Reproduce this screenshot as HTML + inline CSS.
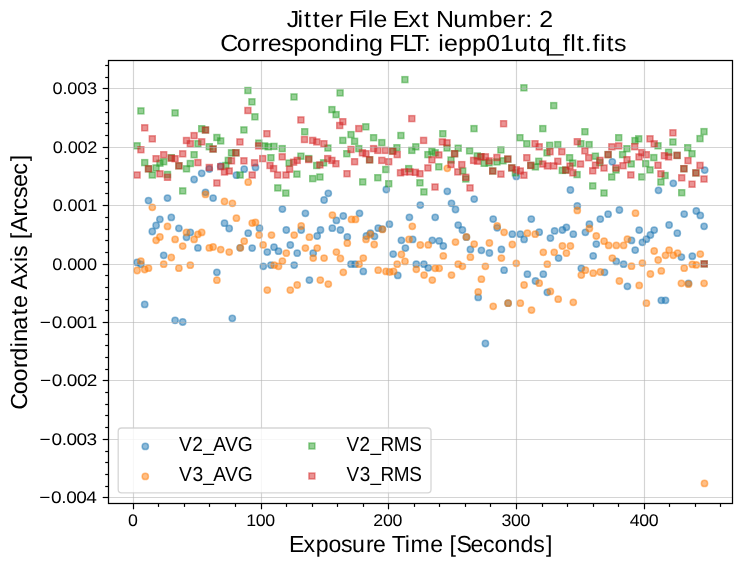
<!DOCTYPE html>
<html><head><meta charset="utf-8"><style>
html,body{margin:0;padding:0;background:#fff;width:743px;height:567px;overflow:hidden}
svg{display:block;will-change:transform}
text{font-family:"Liberation Sans",sans-serif;fill:#000;text-rendering:geometricPrecision}
</style></head><body>
<svg width="743" height="567" viewBox="0 0 743 567">
<rect width="743" height="567" fill="#fff"/>
<g fill-opacity="0.5" stroke-opacity="0.5" stroke-width="1.5">
<circle cx="244.2" cy="169.2" r="3.15" fill="#1f77b4" stroke="#1f77b4"/>
<circle cx="255.5" cy="167.4" r="3.15" fill="#1f77b4" stroke="#1f77b4"/>
<circle cx="236.4" cy="175.2" r="3.15" fill="#1f77b4" stroke="#1f77b4"/>
<circle cx="282.4" cy="209.1" r="3.15" fill="#1f77b4" stroke="#1f77b4"/>
<circle cx="305.4" cy="213.3" r="3.15" fill="#1f77b4" stroke="#1f77b4"/>
<circle cx="324.1" cy="200.0" r="3.15" fill="#1f77b4" stroke="#1f77b4"/>
<circle cx="229.2" cy="228.5" r="3.15" fill="#1f77b4" stroke="#1f77b4"/>
<circle cx="248.2" cy="233.2" r="3.15" fill="#1f77b4" stroke="#1f77b4"/>
<circle cx="259.5" cy="228.2" r="3.15" fill="#1f77b4" stroke="#1f77b4"/>
<circle cx="286.3" cy="230.0" r="3.15" fill="#1f77b4" stroke="#1f77b4"/>
<circle cx="301.2" cy="230.0" r="3.15" fill="#1f77b4" stroke="#1f77b4"/>
<circle cx="320.5" cy="230.0" r="3.15" fill="#1f77b4" stroke="#1f77b4"/>
<circle cx="317.2" cy="236.0" r="3.15" fill="#1f77b4" stroke="#1f77b4"/>
<circle cx="240.1" cy="247.8" r="3.15" fill="#1f77b4" stroke="#1f77b4"/>
<circle cx="252.2" cy="248.1" r="3.15" fill="#1f77b4" stroke="#1f77b4"/>
<circle cx="267.3" cy="252.1" r="3.15" fill="#1f77b4" stroke="#1f77b4"/>
<circle cx="274.0" cy="247.2" r="3.15" fill="#1f77b4" stroke="#1f77b4"/>
<circle cx="278.5" cy="251.2" r="3.15" fill="#1f77b4" stroke="#1f77b4"/>
<circle cx="290.3" cy="245.0" r="3.15" fill="#1f77b4" stroke="#1f77b4"/>
<circle cx="297.2" cy="253.2" r="3.15" fill="#1f77b4" stroke="#1f77b4"/>
<circle cx="313.2" cy="253.2" r="3.15" fill="#1f77b4" stroke="#1f77b4"/>
<circle cx="263.3" cy="266.3" r="3.15" fill="#1f77b4" stroke="#1f77b4"/>
<circle cx="270.9" cy="265.1" r="3.15" fill="#1f77b4" stroke="#1f77b4"/>
<circle cx="294.2" cy="265.1" r="3.15" fill="#1f77b4" stroke="#1f77b4"/>
<circle cx="309.4" cy="280.1" r="3.15" fill="#1f77b4" stroke="#1f77b4"/>
<circle cx="232.3" cy="318.3" r="3.15" fill="#1f77b4" stroke="#1f77b4"/>
<circle cx="328.3" cy="193.3" r="3.15" fill="#1f77b4" stroke="#1f77b4"/>
<circle cx="386.3" cy="189.5" r="3.15" fill="#1f77b4" stroke="#1f77b4"/>
<circle cx="420.3" cy="205.1" r="3.15" fill="#1f77b4" stroke="#1f77b4"/>
<circle cx="359.5" cy="213.3" r="3.15" fill="#1f77b4" stroke="#1f77b4"/>
<circle cx="343.3" cy="216.0" r="3.15" fill="#1f77b4" stroke="#1f77b4"/>
<circle cx="336.4" cy="220.4" r="3.15" fill="#1f77b4" stroke="#1f77b4"/>
<circle cx="332.3" cy="228.2" r="3.15" fill="#1f77b4" stroke="#1f77b4"/>
<circle cx="340.4" cy="230.0" r="3.15" fill="#1f77b4" stroke="#1f77b4"/>
<circle cx="347.3" cy="236.9" r="3.15" fill="#1f77b4" stroke="#1f77b4"/>
<circle cx="366.4" cy="236.0" r="3.15" fill="#1f77b4" stroke="#1f77b4"/>
<circle cx="370.4" cy="233.2" r="3.15" fill="#1f77b4" stroke="#1f77b4"/>
<circle cx="374.5" cy="236.3" r="3.15" fill="#1f77b4" stroke="#1f77b4"/>
<circle cx="378.2" cy="228.2" r="3.15" fill="#1f77b4" stroke="#1f77b4"/>
<circle cx="382.4" cy="229.1" r="3.15" fill="#1f77b4" stroke="#1f77b4"/>
<circle cx="389.4" cy="224.2" r="3.15" fill="#1f77b4" stroke="#1f77b4"/>
<circle cx="409.4" cy="217.3" r="3.15" fill="#1f77b4" stroke="#1f77b4"/>
<circle cx="401.4" cy="240.3" r="3.15" fill="#1f77b4" stroke="#1f77b4"/>
<circle cx="412.7" cy="239.4" r="3.15" fill="#1f77b4" stroke="#1f77b4"/>
<circle cx="405.4" cy="248.1" r="3.15" fill="#1f77b4" stroke="#1f77b4"/>
<circle cx="393.2" cy="254.1" r="3.15" fill="#1f77b4" stroke="#1f77b4"/>
<circle cx="351.0" cy="264.2" r="3.15" fill="#1f77b4" stroke="#1f77b4"/>
<circle cx="355.1" cy="264.2" r="3.15" fill="#1f77b4" stroke="#1f77b4"/>
<circle cx="363.3" cy="271.4" r="3.15" fill="#1f77b4" stroke="#1f77b4"/>
<circle cx="397.8" cy="275.4" r="3.15" fill="#1f77b4" stroke="#1f77b4"/>
<circle cx="416.3" cy="264.2" r="3.15" fill="#1f77b4" stroke="#1f77b4"/>
<circle cx="423.9" cy="264.2" r="3.15" fill="#1f77b4" stroke="#1f77b4"/>
<circle cx="447.3" cy="191.3" r="3.15" fill="#1f77b4" stroke="#1f77b4"/>
<circle cx="474.2" cy="199.1" r="3.15" fill="#1f77b4" stroke="#1f77b4"/>
<circle cx="451.5" cy="203.3" r="3.15" fill="#1f77b4" stroke="#1f77b4"/>
<circle cx="455.5" cy="209.5" r="3.15" fill="#1f77b4" stroke="#1f77b4"/>
<circle cx="435.2" cy="217.3" r="3.15" fill="#1f77b4" stroke="#1f77b4"/>
<circle cx="458.2" cy="225.1" r="3.15" fill="#1f77b4" stroke="#1f77b4"/>
<circle cx="462.4" cy="230.0" r="3.15" fill="#1f77b4" stroke="#1f77b4"/>
<circle cx="493.2" cy="219.1" r="3.15" fill="#1f77b4" stroke="#1f77b4"/>
<circle cx="497.2" cy="227.8" r="3.15" fill="#1f77b4" stroke="#1f77b4"/>
<circle cx="516.3" cy="176.4" r="3.15" fill="#1f77b4" stroke="#1f77b4"/>
<circle cx="432.3" cy="240.3" r="3.15" fill="#1f77b4" stroke="#1f77b4"/>
<circle cx="439.2" cy="240.9" r="3.15" fill="#1f77b4" stroke="#1f77b4"/>
<circle cx="443.3" cy="246.0" r="3.15" fill="#1f77b4" stroke="#1f77b4"/>
<circle cx="466.4" cy="237.2" r="3.15" fill="#1f77b4" stroke="#1f77b4"/>
<circle cx="470.4" cy="249.4" r="3.15" fill="#1f77b4" stroke="#1f77b4"/>
<circle cx="481.4" cy="250.3" r="3.15" fill="#1f77b4" stroke="#1f77b4"/>
<circle cx="489.4" cy="253.0" r="3.15" fill="#1f77b4" stroke="#1f77b4"/>
<circle cx="501.4" cy="249.4" r="3.15" fill="#1f77b4" stroke="#1f77b4"/>
<circle cx="512.3" cy="234.2" r="3.15" fill="#1f77b4" stroke="#1f77b4"/>
<circle cx="520.3" cy="234.2" r="3.15" fill="#1f77b4" stroke="#1f77b4"/>
<circle cx="524.1" cy="239.4" r="3.15" fill="#1f77b4" stroke="#1f77b4"/>
<circle cx="428.3" cy="267.8" r="3.15" fill="#1f77b4" stroke="#1f77b4"/>
<circle cx="504.1" cy="270.2" r="3.15" fill="#1f77b4" stroke="#1f77b4"/>
<circle cx="478.2" cy="297.4" r="3.15" fill="#1f77b4" stroke="#1f77b4"/>
<circle cx="508.1" cy="303.2" r="3.15" fill="#1f77b4" stroke="#1f77b4"/>
<circle cx="485.4" cy="343.5" r="3.15" fill="#1f77b4" stroke="#1f77b4"/>
<circle cx="612.3" cy="161.8" r="3.15" fill="#1f77b4" stroke="#1f77b4"/>
<circle cx="570.4" cy="190.0" r="3.15" fill="#1f77b4" stroke="#1f77b4"/>
<circle cx="577.3" cy="206.0" r="3.15" fill="#1f77b4" stroke="#1f77b4"/>
<circle cx="531.3" cy="219.1" r="3.15" fill="#1f77b4" stroke="#1f77b4"/>
<circle cx="539.2" cy="232.2" r="3.15" fill="#1f77b4" stroke="#1f77b4"/>
<circle cx="550.4" cy="238.1" r="3.15" fill="#1f77b4" stroke="#1f77b4"/>
<circle cx="554.6" cy="230.9" r="3.15" fill="#1f77b4" stroke="#1f77b4"/>
<circle cx="562.4" cy="230.0" r="3.15" fill="#1f77b4" stroke="#1f77b4"/>
<circle cx="566.4" cy="227.3" r="3.15" fill="#1f77b4" stroke="#1f77b4"/>
<circle cx="573.3" cy="234.2" r="3.15" fill="#1f77b4" stroke="#1f77b4"/>
<circle cx="585.4" cy="232.3" r="3.15" fill="#1f77b4" stroke="#1f77b4"/>
<circle cx="589.4" cy="224.2" r="3.15" fill="#1f77b4" stroke="#1f77b4"/>
<circle cx="600.3" cy="219.1" r="3.15" fill="#1f77b4" stroke="#1f77b4"/>
<circle cx="608.1" cy="214.2" r="3.15" fill="#1f77b4" stroke="#1f77b4"/>
<circle cx="619.4" cy="210.0" r="3.15" fill="#1f77b4" stroke="#1f77b4"/>
<circle cx="596.3" cy="244.1" r="3.15" fill="#1f77b4" stroke="#1f77b4"/>
<circle cx="593.2" cy="255.9" r="3.15" fill="#1f77b4" stroke="#1f77b4"/>
<circle cx="558.6" cy="258.1" r="3.15" fill="#1f77b4" stroke="#1f77b4"/>
<circle cx="527.4" cy="274.2" r="3.15" fill="#1f77b4" stroke="#1f77b4"/>
<circle cx="535.5" cy="281.0" r="3.15" fill="#1f77b4" stroke="#1f77b4"/>
<circle cx="543.3" cy="274.2" r="3.15" fill="#1f77b4" stroke="#1f77b4"/>
<circle cx="547.3" cy="292.3" r="3.15" fill="#1f77b4" stroke="#1f77b4"/>
<circle cx="581.3" cy="268.3" r="3.15" fill="#1f77b4" stroke="#1f77b4"/>
<circle cx="604.5" cy="272.3" r="3.15" fill="#1f77b4" stroke="#1f77b4"/>
<circle cx="616.3" cy="261.4" r="3.15" fill="#1f77b4" stroke="#1f77b4"/>
<circle cx="623.6" cy="264.2" r="3.15" fill="#1f77b4" stroke="#1f77b4"/>
<circle cx="704.7" cy="170.1" r="3.15" fill="#1f77b4" stroke="#1f77b4"/>
<circle cx="673.3" cy="183.3" r="3.15" fill="#1f77b4" stroke="#1f77b4"/>
<circle cx="658.5" cy="190.3" r="3.15" fill="#1f77b4" stroke="#1f77b4"/>
<circle cx="684.2" cy="214.1" r="3.15" fill="#1f77b4" stroke="#1f77b4"/>
<circle cx="696.3" cy="211.0" r="3.15" fill="#1f77b4" stroke="#1f77b4"/>
<circle cx="700.3" cy="215.4" r="3.15" fill="#1f77b4" stroke="#1f77b4"/>
<circle cx="704.1" cy="226.3" r="3.15" fill="#1f77b4" stroke="#1f77b4"/>
<circle cx="669.1" cy="225.0" r="3.15" fill="#1f77b4" stroke="#1f77b4"/>
<circle cx="677.3" cy="233.2" r="3.15" fill="#1f77b4" stroke="#1f77b4"/>
<circle cx="654.2" cy="230.1" r="3.15" fill="#1f77b4" stroke="#1f77b4"/>
<circle cx="650.4" cy="235.0" r="3.15" fill="#1f77b4" stroke="#1f77b4"/>
<circle cx="646.4" cy="239.2" r="3.15" fill="#1f77b4" stroke="#1f77b4"/>
<circle cx="642.4" cy="242.3" r="3.15" fill="#1f77b4" stroke="#1f77b4"/>
<circle cx="639.2" cy="230.1" r="3.15" fill="#1f77b4" stroke="#1f77b4"/>
<circle cx="631.5" cy="240.4" r="3.15" fill="#1f77b4" stroke="#1f77b4"/>
<circle cx="635.2" cy="250.1" r="3.15" fill="#1f77b4" stroke="#1f77b4"/>
<circle cx="681.4" cy="257.1" r="3.15" fill="#1f77b4" stroke="#1f77b4"/>
<circle cx="692.3" cy="256.2" r="3.15" fill="#1f77b4" stroke="#1f77b4"/>
<circle cx="627.4" cy="286.3" r="3.15" fill="#1f77b4" stroke="#1f77b4"/>
<circle cx="661.3" cy="300.3" r="3.15" fill="#1f77b4" stroke="#1f77b4"/>
<circle cx="665.5" cy="300.3" r="3.15" fill="#1f77b4" stroke="#1f77b4"/>
<circle cx="688.5" cy="283.3" r="3.15" fill="#1f77b4" stroke="#1f77b4"/>
<circle cx="137.1" cy="262.4" r="3.15" fill="#1f77b4" stroke="#1f77b4"/>
<circle cx="140.9" cy="264.3" r="3.15" fill="#1f77b4" stroke="#1f77b4"/>
<circle cx="144.7" cy="304.4" r="3.15" fill="#1f77b4" stroke="#1f77b4"/>
<circle cx="148.5" cy="200.6" r="3.15" fill="#1f77b4" stroke="#1f77b4"/>
<circle cx="152.3" cy="231.5" r="3.15" fill="#1f77b4" stroke="#1f77b4"/>
<circle cx="156.1" cy="225.5" r="3.15" fill="#1f77b4" stroke="#1f77b4"/>
<circle cx="159.9" cy="219.3" r="3.15" fill="#1f77b4" stroke="#1f77b4"/>
<circle cx="163.7" cy="255.3" r="3.15" fill="#1f77b4" stroke="#1f77b4"/>
<circle cx="167.5" cy="198.1" r="3.15" fill="#1f77b4" stroke="#1f77b4"/>
<circle cx="171.3" cy="217.4" r="3.15" fill="#1f77b4" stroke="#1f77b4"/>
<circle cx="175.1" cy="320.3" r="3.15" fill="#1f77b4" stroke="#1f77b4"/>
<circle cx="178.9" cy="228.3" r="3.15" fill="#1f77b4" stroke="#1f77b4"/>
<circle cx="182.7" cy="322.0" r="3.15" fill="#1f77b4" stroke="#1f77b4"/>
<circle cx="186.5" cy="237.3" r="3.15" fill="#1f77b4" stroke="#1f77b4"/>
<circle cx="190.3" cy="232.4" r="3.15" fill="#1f77b4" stroke="#1f77b4"/>
<circle cx="194.1" cy="179.5" r="3.15" fill="#1f77b4" stroke="#1f77b4"/>
<circle cx="197.9" cy="247.9" r="3.15" fill="#1f77b4" stroke="#1f77b4"/>
<circle cx="201.7" cy="173.3" r="3.15" fill="#1f77b4" stroke="#1f77b4"/>
<circle cx="205.5" cy="192.3" r="3.15" fill="#1f77b4" stroke="#1f77b4"/>
<circle cx="209.3" cy="169.0" r="3.15" fill="#1f77b4" stroke="#1f77b4"/>
<circle cx="213.1" cy="198.1" r="3.15" fill="#1f77b4" stroke="#1f77b4"/>
<circle cx="216.9" cy="272.3" r="3.15" fill="#1f77b4" stroke="#1f77b4"/>
<circle cx="220.7" cy="166.2" r="3.15" fill="#1f77b4" stroke="#1f77b4"/>
<circle cx="224.5" cy="223.2" r="3.15" fill="#1f77b4" stroke="#1f77b4"/>
<circle cx="248.2" cy="182.2" r="3.15" fill="#ff7f0e" stroke="#ff7f0e"/>
<circle cx="232.4" cy="203.3" r="3.15" fill="#ff7f0e" stroke="#ff7f0e"/>
<circle cx="236.4" cy="218.2" r="3.15" fill="#ff7f0e" stroke="#ff7f0e"/>
<circle cx="252.2" cy="223.1" r="3.15" fill="#ff7f0e" stroke="#ff7f0e"/>
<circle cx="255.5" cy="222.4" r="3.15" fill="#ff7f0e" stroke="#ff7f0e"/>
<circle cx="259.1" cy="235.1" r="3.15" fill="#ff7f0e" stroke="#ff7f0e"/>
<circle cx="244.2" cy="241.2" r="3.15" fill="#ff7f0e" stroke="#ff7f0e"/>
<circle cx="271.5" cy="235.1" r="3.15" fill="#ff7f0e" stroke="#ff7f0e"/>
<circle cx="263.1" cy="244.9" r="3.15" fill="#ff7f0e" stroke="#ff7f0e"/>
<circle cx="240.4" cy="247.8" r="3.15" fill="#ff7f0e" stroke="#ff7f0e"/>
<circle cx="229.2" cy="252.1" r="3.15" fill="#ff7f0e" stroke="#ff7f0e"/>
<circle cx="286.3" cy="253.2" r="3.15" fill="#ff7f0e" stroke="#ff7f0e"/>
<circle cx="294.2" cy="235.1" r="3.15" fill="#ff7f0e" stroke="#ff7f0e"/>
<circle cx="301.2" cy="226.0" r="3.15" fill="#ff7f0e" stroke="#ff7f0e"/>
<circle cx="309.4" cy="237.2" r="3.15" fill="#ff7f0e" stroke="#ff7f0e"/>
<circle cx="305.4" cy="248.1" r="3.15" fill="#ff7f0e" stroke="#ff7f0e"/>
<circle cx="317.2" cy="248.1" r="3.15" fill="#ff7f0e" stroke="#ff7f0e"/>
<circle cx="313.2" cy="258.1" r="3.15" fill="#ff7f0e" stroke="#ff7f0e"/>
<circle cx="324.1" cy="258.1" r="3.15" fill="#ff7f0e" stroke="#ff7f0e"/>
<circle cx="274.2" cy="265.1" r="3.15" fill="#ff7f0e" stroke="#ff7f0e"/>
<circle cx="278.5" cy="266.3" r="3.15" fill="#ff7f0e" stroke="#ff7f0e"/>
<circle cx="282.4" cy="261.1" r="3.15" fill="#ff7f0e" stroke="#ff7f0e"/>
<circle cx="267.3" cy="290.1" r="3.15" fill="#ff7f0e" stroke="#ff7f0e"/>
<circle cx="290.3" cy="290.1" r="3.15" fill="#ff7f0e" stroke="#ff7f0e"/>
<circle cx="297.2" cy="285.0" r="3.15" fill="#ff7f0e" stroke="#ff7f0e"/>
<circle cx="320.3" cy="280.1" r="3.15" fill="#ff7f0e" stroke="#ff7f0e"/>
<circle cx="332.4" cy="215.1" r="3.15" fill="#ff7f0e" stroke="#ff7f0e"/>
<circle cx="351.5" cy="219.4" r="3.15" fill="#ff7f0e" stroke="#ff7f0e"/>
<circle cx="355.5" cy="219.4" r="3.15" fill="#ff7f0e" stroke="#ff7f0e"/>
<circle cx="366.0" cy="239.4" r="3.15" fill="#ff7f0e" stroke="#ff7f0e"/>
<circle cx="370.4" cy="234.5" r="3.15" fill="#ff7f0e" stroke="#ff7f0e"/>
<circle cx="374.2" cy="244.5" r="3.15" fill="#ff7f0e" stroke="#ff7f0e"/>
<circle cx="382.4" cy="229.4" r="3.15" fill="#ff7f0e" stroke="#ff7f0e"/>
<circle cx="347.3" cy="243.2" r="3.15" fill="#ff7f0e" stroke="#ff7f0e"/>
<circle cx="336.4" cy="252.1" r="3.15" fill="#ff7f0e" stroke="#ff7f0e"/>
<circle cx="340.4" cy="258.5" r="3.15" fill="#ff7f0e" stroke="#ff7f0e"/>
<circle cx="363.3" cy="258.1" r="3.15" fill="#ff7f0e" stroke="#ff7f0e"/>
<circle cx="412.3" cy="226.3" r="3.15" fill="#ff7f0e" stroke="#ff7f0e"/>
<circle cx="409.0" cy="239.4" r="3.15" fill="#ff7f0e" stroke="#ff7f0e"/>
<circle cx="420.3" cy="245.0" r="3.15" fill="#ff7f0e" stroke="#ff7f0e"/>
<circle cx="401.4" cy="254.5" r="3.15" fill="#ff7f0e" stroke="#ff7f0e"/>
<circle cx="359.1" cy="264.2" r="3.15" fill="#ff7f0e" stroke="#ff7f0e"/>
<circle cx="343.3" cy="272.3" r="3.15" fill="#ff7f0e" stroke="#ff7f0e"/>
<circle cx="328.3" cy="284.1" r="3.15" fill="#ff7f0e" stroke="#ff7f0e"/>
<circle cx="378.2" cy="270.2" r="3.15" fill="#ff7f0e" stroke="#ff7f0e"/>
<circle cx="386.0" cy="271.4" r="3.15" fill="#ff7f0e" stroke="#ff7f0e"/>
<circle cx="389.6" cy="272.0" r="3.15" fill="#ff7f0e" stroke="#ff7f0e"/>
<circle cx="393.6" cy="271.4" r="3.15" fill="#ff7f0e" stroke="#ff7f0e"/>
<circle cx="397.2" cy="264.2" r="3.15" fill="#ff7f0e" stroke="#ff7f0e"/>
<circle cx="405.0" cy="261.4" r="3.15" fill="#ff7f0e" stroke="#ff7f0e"/>
<circle cx="416.3" cy="269.3" r="3.15" fill="#ff7f0e" stroke="#ff7f0e"/>
<circle cx="424.1" cy="275.1" r="3.15" fill="#ff7f0e" stroke="#ff7f0e"/>
<circle cx="447.3" cy="168.3" r="3.15" fill="#ff7f0e" stroke="#ff7f0e"/>
<circle cx="497.2" cy="226.0" r="3.15" fill="#ff7f0e" stroke="#ff7f0e"/>
<circle cx="504.1" cy="232.3" r="3.15" fill="#ff7f0e" stroke="#ff7f0e"/>
<circle cx="466.4" cy="236.9" r="3.15" fill="#ff7f0e" stroke="#ff7f0e"/>
<circle cx="428.3" cy="244.9" r="3.15" fill="#ff7f0e" stroke="#ff7f0e"/>
<circle cx="455.5" cy="242.1" r="3.15" fill="#ff7f0e" stroke="#ff7f0e"/>
<circle cx="474.2" cy="244.1" r="3.15" fill="#ff7f0e" stroke="#ff7f0e"/>
<circle cx="489.4" cy="243.0" r="3.15" fill="#ff7f0e" stroke="#ff7f0e"/>
<circle cx="512.3" cy="244.5" r="3.15" fill="#ff7f0e" stroke="#ff7f0e"/>
<circle cx="443.3" cy="255.9" r="3.15" fill="#ff7f0e" stroke="#ff7f0e"/>
<circle cx="470.4" cy="257.2" r="3.15" fill="#ff7f0e" stroke="#ff7f0e"/>
<circle cx="501.4" cy="258.1" r="3.15" fill="#ff7f0e" stroke="#ff7f0e"/>
<circle cx="432.3" cy="280.1" r="3.15" fill="#ff7f0e" stroke="#ff7f0e"/>
<circle cx="435.2" cy="268.3" r="3.15" fill="#ff7f0e" stroke="#ff7f0e"/>
<circle cx="439.2" cy="268.3" r="3.15" fill="#ff7f0e" stroke="#ff7f0e"/>
<circle cx="451.5" cy="275.1" r="3.15" fill="#ff7f0e" stroke="#ff7f0e"/>
<circle cx="458.2" cy="264.2" r="3.15" fill="#ff7f0e" stroke="#ff7f0e"/>
<circle cx="462.4" cy="266.3" r="3.15" fill="#ff7f0e" stroke="#ff7f0e"/>
<circle cx="485.4" cy="266.3" r="3.15" fill="#ff7f0e" stroke="#ff7f0e"/>
<circle cx="481.4" cy="279.2" r="3.15" fill="#ff7f0e" stroke="#ff7f0e"/>
<circle cx="478.2" cy="291.9" r="3.15" fill="#ff7f0e" stroke="#ff7f0e"/>
<circle cx="493.2" cy="306.3" r="3.15" fill="#ff7f0e" stroke="#ff7f0e"/>
<circle cx="508.1" cy="303.2" r="3.15" fill="#ff7f0e" stroke="#ff7f0e"/>
<circle cx="516.3" cy="263.3" r="3.15" fill="#ff7f0e" stroke="#ff7f0e"/>
<circle cx="520.3" cy="303.2" r="3.15" fill="#ff7f0e" stroke="#ff7f0e"/>
<circle cx="524.1" cy="285.0" r="3.15" fill="#ff7f0e" stroke="#ff7f0e"/>
<circle cx="577.3" cy="210.4" r="3.15" fill="#ff7f0e" stroke="#ff7f0e"/>
<circle cx="527.4" cy="233.2" r="3.15" fill="#ff7f0e" stroke="#ff7f0e"/>
<circle cx="535.2" cy="234.2" r="3.15" fill="#ff7f0e" stroke="#ff7f0e"/>
<circle cx="589.4" cy="228.5" r="3.15" fill="#ff7f0e" stroke="#ff7f0e"/>
<circle cx="596.3" cy="236.0" r="3.15" fill="#ff7f0e" stroke="#ff7f0e"/>
<circle cx="604.1" cy="241.2" r="3.15" fill="#ff7f0e" stroke="#ff7f0e"/>
<circle cx="608.7" cy="245.4" r="3.15" fill="#ff7f0e" stroke="#ff7f0e"/>
<circle cx="616.3" cy="245.4" r="3.15" fill="#ff7f0e" stroke="#ff7f0e"/>
<circle cx="623.6" cy="245.4" r="3.15" fill="#ff7f0e" stroke="#ff7f0e"/>
<circle cx="562.4" cy="246.0" r="3.15" fill="#ff7f0e" stroke="#ff7f0e"/>
<circle cx="570.4" cy="246.0" r="3.15" fill="#ff7f0e" stroke="#ff7f0e"/>
<circle cx="543.3" cy="252.3" r="3.15" fill="#ff7f0e" stroke="#ff7f0e"/>
<circle cx="554.2" cy="252.3" r="3.15" fill="#ff7f0e" stroke="#ff7f0e"/>
<circle cx="566.4" cy="253.2" r="3.15" fill="#ff7f0e" stroke="#ff7f0e"/>
<circle cx="612.3" cy="258.1" r="3.15" fill="#ff7f0e" stroke="#ff7f0e"/>
<circle cx="531.5" cy="310.1" r="3.15" fill="#ff7f0e" stroke="#ff7f0e"/>
<circle cx="539.2" cy="283.2" r="3.15" fill="#ff7f0e" stroke="#ff7f0e"/>
<circle cx="547.3" cy="264.2" r="3.15" fill="#ff7f0e" stroke="#ff7f0e"/>
<circle cx="550.4" cy="291.4" r="3.15" fill="#ff7f0e" stroke="#ff7f0e"/>
<circle cx="558.2" cy="299.2" r="3.15" fill="#ff7f0e" stroke="#ff7f0e"/>
<circle cx="573.3" cy="302.3" r="3.15" fill="#ff7f0e" stroke="#ff7f0e"/>
<circle cx="581.3" cy="275.1" r="3.15" fill="#ff7f0e" stroke="#ff7f0e"/>
<circle cx="585.4" cy="270.2" r="3.15" fill="#ff7f0e" stroke="#ff7f0e"/>
<circle cx="593.2" cy="273.2" r="3.15" fill="#ff7f0e" stroke="#ff7f0e"/>
<circle cx="600.3" cy="272.0" r="3.15" fill="#ff7f0e" stroke="#ff7f0e"/>
<circle cx="619.4" cy="281.0" r="3.15" fill="#ff7f0e" stroke="#ff7f0e"/>
<circle cx="704.5" cy="483.4" r="3.15" fill="#ff7f0e" stroke="#ff7f0e"/>
<circle cx="635.5" cy="213.2" r="3.15" fill="#ff7f0e" stroke="#ff7f0e"/>
<circle cx="627.4" cy="239.2" r="3.15" fill="#ff7f0e" stroke="#ff7f0e"/>
<circle cx="654.2" cy="251.0" r="3.15" fill="#ff7f0e" stroke="#ff7f0e"/>
<circle cx="658.2" cy="260.0" r="3.15" fill="#ff7f0e" stroke="#ff7f0e"/>
<circle cx="665.5" cy="255.3" r="3.15" fill="#ff7f0e" stroke="#ff7f0e"/>
<circle cx="669.1" cy="250.1" r="3.15" fill="#ff7f0e" stroke="#ff7f0e"/>
<circle cx="673.3" cy="255.3" r="3.15" fill="#ff7f0e" stroke="#ff7f0e"/>
<circle cx="677.6" cy="253.1" r="3.15" fill="#ff7f0e" stroke="#ff7f0e"/>
<circle cx="700.3" cy="254.1" r="3.15" fill="#ff7f0e" stroke="#ff7f0e"/>
<circle cx="642.4" cy="263.1" r="3.15" fill="#ff7f0e" stroke="#ff7f0e"/>
<circle cx="631.5" cy="266.2" r="3.15" fill="#ff7f0e" stroke="#ff7f0e"/>
<circle cx="650.4" cy="274.0" r="3.15" fill="#ff7f0e" stroke="#ff7f0e"/>
<circle cx="661.3" cy="270.9" r="3.15" fill="#ff7f0e" stroke="#ff7f0e"/>
<circle cx="684.2" cy="268.2" r="3.15" fill="#ff7f0e" stroke="#ff7f0e"/>
<circle cx="692.3" cy="264.4" r="3.15" fill="#ff7f0e" stroke="#ff7f0e"/>
<circle cx="696.3" cy="264.9" r="3.15" fill="#ff7f0e" stroke="#ff7f0e"/>
<circle cx="639.2" cy="285.4" r="3.15" fill="#ff7f0e" stroke="#ff7f0e"/>
<circle cx="646.4" cy="303.2" r="3.15" fill="#ff7f0e" stroke="#ff7f0e"/>
<circle cx="681.4" cy="283.3" r="3.15" fill="#ff7f0e" stroke="#ff7f0e"/>
<circle cx="688.5" cy="284.2" r="3.15" fill="#ff7f0e" stroke="#ff7f0e"/>
<circle cx="704.1" cy="283.3" r="3.15" fill="#ff7f0e" stroke="#ff7f0e"/>
<circle cx="137.1" cy="270.5" r="3.15" fill="#ff7f0e" stroke="#ff7f0e"/>
<circle cx="140.9" cy="261.2" r="3.15" fill="#ff7f0e" stroke="#ff7f0e"/>
<circle cx="144.7" cy="269.5" r="3.15" fill="#ff7f0e" stroke="#ff7f0e"/>
<circle cx="148.5" cy="268.2" r="3.15" fill="#ff7f0e" stroke="#ff7f0e"/>
<circle cx="152.3" cy="207.3" r="3.15" fill="#ff7f0e" stroke="#ff7f0e"/>
<circle cx="156.1" cy="240.3" r="3.15" fill="#ff7f0e" stroke="#ff7f0e"/>
<circle cx="159.9" cy="237.0" r="3.15" fill="#ff7f0e" stroke="#ff7f0e"/>
<circle cx="163.7" cy="264.2" r="3.15" fill="#ff7f0e" stroke="#ff7f0e"/>
<circle cx="167.5" cy="226.4" r="3.15" fill="#ff7f0e" stroke="#ff7f0e"/>
<circle cx="171.3" cy="257.5" r="3.15" fill="#ff7f0e" stroke="#ff7f0e"/>
<circle cx="175.1" cy="239.4" r="3.15" fill="#ff7f0e" stroke="#ff7f0e"/>
<circle cx="178.9" cy="268.2" r="3.15" fill="#ff7f0e" stroke="#ff7f0e"/>
<circle cx="182.7" cy="246.1" r="3.15" fill="#ff7f0e" stroke="#ff7f0e"/>
<circle cx="186.5" cy="232.4" r="3.15" fill="#ff7f0e" stroke="#ff7f0e"/>
<circle cx="190.3" cy="265.2" r="3.15" fill="#ff7f0e" stroke="#ff7f0e"/>
<circle cx="194.1" cy="239.4" r="3.15" fill="#ff7f0e" stroke="#ff7f0e"/>
<circle cx="197.9" cy="234.3" r="3.15" fill="#ff7f0e" stroke="#ff7f0e"/>
<circle cx="201.7" cy="232.4" r="3.15" fill="#ff7f0e" stroke="#ff7f0e"/>
<circle cx="205.5" cy="194.4" r="3.15" fill="#ff7f0e" stroke="#ff7f0e"/>
<circle cx="209.3" cy="247.9" r="3.15" fill="#ff7f0e" stroke="#ff7f0e"/>
<circle cx="213.1" cy="247.0" r="3.15" fill="#ff7f0e" stroke="#ff7f0e"/>
<circle cx="216.9" cy="280.2" r="3.15" fill="#ff7f0e" stroke="#ff7f0e"/>
<circle cx="220.7" cy="249.6" r="3.15" fill="#ff7f0e" stroke="#ff7f0e"/>
<circle cx="224.5" cy="201.5" r="3.15" fill="#ff7f0e" stroke="#ff7f0e"/>
<rect x="244.95" y="87.55" width="5.90" height="5.90" fill="#2ca02c" stroke="#2ca02c"/>
<rect x="248.95" y="98.85" width="5.90" height="5.90" fill="#2ca02c" stroke="#2ca02c"/>
<rect x="251.95" y="113.85" width="5.90" height="5.90" fill="#2ca02c" stroke="#2ca02c"/>
<rect x="240.95" y="126.95" width="5.90" height="5.90" fill="#2ca02c" stroke="#2ca02c"/>
<rect x="291.05" y="93.95" width="5.90" height="5.90" fill="#2ca02c" stroke="#2ca02c"/>
<rect x="301.75" y="128.75" width="5.90" height="5.90" fill="#2ca02c" stroke="#2ca02c"/>
<rect x="255.85" y="140.15" width="5.90" height="5.90" fill="#2ca02c" stroke="#2ca02c"/>
<rect x="261.65" y="142.95" width="5.90" height="5.90" fill="#2ca02c" stroke="#2ca02c"/>
<rect x="265.25" y="143.85" width="5.90" height="5.90" fill="#2ca02c" stroke="#2ca02c"/>
<rect x="271.05" y="143.45" width="5.90" height="5.90" fill="#2ca02c" stroke="#2ca02c"/>
<rect x="279.25" y="145.65" width="5.90" height="5.90" fill="#2ca02c" stroke="#2ca02c"/>
<rect x="228.55" y="149.85" width="5.90" height="5.90" fill="#2ca02c" stroke="#2ca02c"/>
<rect x="267.95" y="154.75" width="5.90" height="5.90" fill="#2ca02c" stroke="#2ca02c"/>
<rect x="297.95" y="153.25" width="5.90" height="5.90" fill="#2ca02c" stroke="#2ca02c"/>
<rect x="305.75" y="155.65" width="5.90" height="5.90" fill="#2ca02c" stroke="#2ca02c"/>
<rect x="225.35" y="157.45" width="5.90" height="5.90" fill="#2ca02c" stroke="#2ca02c"/>
<rect x="286.15" y="160.15" width="5.90" height="5.90" fill="#2ca02c" stroke="#2ca02c"/>
<rect x="320.65" y="159.85" width="5.90" height="5.90" fill="#2ca02c" stroke="#2ca02c"/>
<rect x="232.95" y="149.85" width="5.90" height="5.90" fill="#2ca02c" stroke="#2ca02c"/>
<rect x="237.15" y="172.05" width="5.90" height="5.90" fill="#2ca02c" stroke="#2ca02c"/>
<rect x="293.95" y="171.15" width="5.90" height="5.90" fill="#2ca02c" stroke="#2ca02c"/>
<rect x="309.75" y="175.65" width="5.90" height="5.90" fill="#2ca02c" stroke="#2ca02c"/>
<rect x="316.95" y="174.05" width="5.90" height="5.90" fill="#2ca02c" stroke="#2ca02c"/>
<rect x="313.75" y="162.55" width="5.90" height="5.90" fill="#2ca02c" stroke="#2ca02c"/>
<rect x="274.85" y="184.95" width="5.90" height="5.90" fill="#2ca02c" stroke="#2ca02c"/>
<rect x="282.85" y="190.15" width="5.90" height="5.90" fill="#2ca02c" stroke="#2ca02c"/>
<rect x="222.95" y="162.55" width="5.90" height="5.90" fill="#2ca02c" stroke="#2ca02c"/>
<rect x="401.95" y="76.65" width="5.90" height="5.90" fill="#2ca02c" stroke="#2ca02c"/>
<rect x="337.15" y="89.95" width="5.90" height="5.90" fill="#2ca02c" stroke="#2ca02c"/>
<rect x="328.95" y="106.65" width="5.90" height="5.90" fill="#2ca02c" stroke="#2ca02c"/>
<rect x="333.15" y="111.65" width="5.90" height="5.90" fill="#2ca02c" stroke="#2ca02c"/>
<rect x="362.85" y="123.85" width="5.90" height="5.90" fill="#2ca02c" stroke="#2ca02c"/>
<rect x="348.05" y="131.65" width="5.90" height="5.90" fill="#2ca02c" stroke="#2ca02c"/>
<rect x="339.85" y="137.45" width="5.90" height="5.90" fill="#2ca02c" stroke="#2ca02c"/>
<rect x="351.65" y="138.35" width="5.90" height="5.90" fill="#2ca02c" stroke="#2ca02c"/>
<rect x="370.65" y="134.75" width="5.90" height="5.90" fill="#2ca02c" stroke="#2ca02c"/>
<rect x="378.85" y="139.65" width="5.90" height="5.90" fill="#2ca02c" stroke="#2ca02c"/>
<rect x="397.95" y="132.55" width="5.90" height="5.90" fill="#2ca02c" stroke="#2ca02c"/>
<rect x="324.95" y="145.05" width="5.90" height="5.90" fill="#2ca02c" stroke="#2ca02c"/>
<rect x="355.85" y="145.65" width="5.90" height="5.90" fill="#2ca02c" stroke="#2ca02c"/>
<rect x="343.85" y="150.75" width="5.90" height="5.90" fill="#2ca02c" stroke="#2ca02c"/>
<rect x="393.95" y="144.75" width="5.90" height="5.90" fill="#2ca02c" stroke="#2ca02c"/>
<rect x="389.75" y="147.85" width="5.90" height="5.90" fill="#2ca02c" stroke="#2ca02c"/>
<rect x="408.85" y="147.45" width="5.90" height="5.90" fill="#2ca02c" stroke="#2ca02c"/>
<rect x="412.85" y="143.85" width="5.90" height="5.90" fill="#2ca02c" stroke="#2ca02c"/>
<rect x="366.65" y="156.85" width="5.90" height="5.90" fill="#2ca02c" stroke="#2ca02c"/>
<rect x="405.75" y="165.65" width="5.90" height="5.90" fill="#2ca02c" stroke="#2ca02c"/>
<rect x="382.85" y="166.55" width="5.90" height="5.90" fill="#2ca02c" stroke="#2ca02c"/>
<rect x="374.85" y="174.75" width="5.90" height="5.90" fill="#2ca02c" stroke="#2ca02c"/>
<rect x="359.75" y="178.95" width="5.90" height="5.90" fill="#2ca02c" stroke="#2ca02c"/>
<rect x="385.75" y="180.75" width="5.90" height="5.90" fill="#2ca02c" stroke="#2ca02c"/>
<rect x="416.95" y="179.85" width="5.90" height="5.90" fill="#2ca02c" stroke="#2ca02c"/>
<rect x="420.95" y="188.95" width="5.90" height="5.90" fill="#2ca02c" stroke="#2ca02c"/>
<rect x="520.95" y="84.85" width="5.90" height="5.90" fill="#2ca02c" stroke="#2ca02c"/>
<rect x="471.05" y="125.65" width="5.90" height="5.90" fill="#2ca02c" stroke="#2ca02c"/>
<rect x="439.85" y="130.75" width="5.90" height="5.90" fill="#2ca02c" stroke="#2ca02c"/>
<rect x="516.95" y="134.75" width="5.90" height="5.90" fill="#2ca02c" stroke="#2ca02c"/>
<rect x="444.05" y="145.05" width="5.90" height="5.90" fill="#2ca02c" stroke="#2ca02c"/>
<rect x="455.25" y="145.25" width="5.90" height="5.90" fill="#2ca02c" stroke="#2ca02c"/>
<rect x="466.65" y="147.85" width="5.90" height="5.90" fill="#2ca02c" stroke="#2ca02c"/>
<rect x="497.95" y="146.95" width="5.90" height="5.90" fill="#2ca02c" stroke="#2ca02c"/>
<rect x="424.95" y="151.65" width="5.90" height="5.90" fill="#2ca02c" stroke="#2ca02c"/>
<rect x="428.95" y="148.35" width="5.90" height="5.90" fill="#2ca02c" stroke="#2ca02c"/>
<rect x="432.25" y="149.85" width="5.90" height="5.90" fill="#2ca02c" stroke="#2ca02c"/>
<rect x="448.05" y="157.05" width="5.90" height="5.90" fill="#2ca02c" stroke="#2ca02c"/>
<rect x="474.35" y="152.95" width="5.90" height="5.90" fill="#2ca02c" stroke="#2ca02c"/>
<rect x="481.25" y="160.35" width="5.90" height="5.90" fill="#2ca02c" stroke="#2ca02c"/>
<rect x="486.15" y="159.85" width="5.90" height="5.90" fill="#2ca02c" stroke="#2ca02c"/>
<rect x="493.95" y="158.95" width="5.90" height="5.90" fill="#2ca02c" stroke="#2ca02c"/>
<rect x="500.05" y="157.85" width="5.90" height="5.90" fill="#2ca02c" stroke="#2ca02c"/>
<rect x="451.65" y="150.75" width="5.90" height="5.90" fill="#2ca02c" stroke="#2ca02c"/>
<rect x="504.85" y="156.25" width="5.90" height="5.90" fill="#2ca02c" stroke="#2ca02c"/>
<rect x="435.85" y="163.85" width="5.90" height="5.90" fill="#2ca02c" stroke="#2ca02c"/>
<rect x="459.75" y="168.05" width="5.90" height="5.90" fill="#2ca02c" stroke="#2ca02c"/>
<rect x="462.85" y="176.05" width="5.90" height="5.90" fill="#2ca02c" stroke="#2ca02c"/>
<rect x="489.75" y="168.05" width="5.90" height="5.90" fill="#2ca02c" stroke="#2ca02c"/>
<rect x="508.85" y="164.95" width="5.90" height="5.90" fill="#2ca02c" stroke="#2ca02c"/>
<rect x="512.45" y="169.85" width="5.90" height="5.90" fill="#2ca02c" stroke="#2ca02c"/>
<rect x="477.95" y="153.85" width="5.90" height="5.90" fill="#2ca02c" stroke="#2ca02c"/>
<rect x="550.75" y="102.65" width="5.90" height="5.90" fill="#2ca02c" stroke="#2ca02c"/>
<rect x="539.85" y="125.65" width="5.90" height="5.90" fill="#2ca02c" stroke="#2ca02c"/>
<rect x="581.95" y="128.75" width="5.90" height="5.90" fill="#2ca02c" stroke="#2ca02c"/>
<rect x="615.75" y="134.75" width="5.90" height="5.90" fill="#2ca02c" stroke="#2ca02c"/>
<rect x="523.85" y="140.75" width="5.90" height="5.90" fill="#2ca02c" stroke="#2ca02c"/>
<rect x="546.75" y="142.35" width="5.90" height="5.90" fill="#2ca02c" stroke="#2ca02c"/>
<rect x="554.85" y="141.65" width="5.90" height="5.90" fill="#2ca02c" stroke="#2ca02c"/>
<rect x="577.95" y="140.75" width="5.90" height="5.90" fill="#2ca02c" stroke="#2ca02c"/>
<rect x="586.15" y="141.65" width="5.90" height="5.90" fill="#2ca02c" stroke="#2ca02c"/>
<rect x="544.05" y="149.85" width="5.90" height="5.90" fill="#2ca02c" stroke="#2ca02c"/>
<rect x="566.65" y="154.75" width="5.90" height="5.90" fill="#2ca02c" stroke="#2ca02c"/>
<rect x="569.75" y="160.15" width="5.90" height="5.90" fill="#2ca02c" stroke="#2ca02c"/>
<rect x="592.45" y="153.25" width="5.90" height="5.90" fill="#2ca02c" stroke="#2ca02c"/>
<rect x="619.65" y="151.65" width="5.90" height="5.90" fill="#2ca02c" stroke="#2ca02c"/>
<rect x="535.85" y="158.35" width="5.90" height="5.90" fill="#2ca02c" stroke="#2ca02c"/>
<rect x="605.15" y="151.65" width="5.90" height="5.90" fill="#2ca02c" stroke="#2ca02c"/>
<rect x="596.75" y="159.65" width="5.90" height="5.90" fill="#2ca02c" stroke="#2ca02c"/>
<rect x="527.85" y="162.45" width="5.90" height="5.90" fill="#2ca02c" stroke="#2ca02c"/>
<rect x="532.45" y="163.95" width="5.90" height="5.90" fill="#2ca02c" stroke="#2ca02c"/>
<rect x="559.35" y="167.45" width="5.90" height="5.90" fill="#2ca02c" stroke="#2ca02c"/>
<rect x="562.85" y="167.15" width="5.90" height="5.90" fill="#2ca02c" stroke="#2ca02c"/>
<rect x="574.15" y="171.65" width="5.90" height="5.90" fill="#2ca02c" stroke="#2ca02c"/>
<rect x="613.05" y="167.05" width="5.90" height="5.90" fill="#2ca02c" stroke="#2ca02c"/>
<rect x="608.75" y="174.05" width="5.90" height="5.90" fill="#2ca02c" stroke="#2ca02c"/>
<rect x="589.75" y="182.95" width="5.90" height="5.90" fill="#2ca02c" stroke="#2ca02c"/>
<rect x="601.05" y="190.05" width="5.90" height="5.90" fill="#2ca02c" stroke="#2ca02c"/>
<rect x="701.05" y="128.65" width="5.90" height="5.90" fill="#2ca02c" stroke="#2ca02c"/>
<rect x="697.05" y="135.65" width="5.90" height="5.90" fill="#2ca02c" stroke="#2ca02c"/>
<rect x="669.95" y="139.05" width="5.90" height="5.90" fill="#2ca02c" stroke="#2ca02c"/>
<rect x="635.75" y="135.85" width="5.90" height="5.90" fill="#2ca02c" stroke="#2ca02c"/>
<rect x="632.05" y="137.65" width="5.90" height="5.90" fill="#2ca02c" stroke="#2ca02c"/>
<rect x="655.05" y="142.85" width="5.90" height="5.90" fill="#2ca02c" stroke="#2ca02c"/>
<rect x="623.95" y="145.75" width="5.90" height="5.90" fill="#2ca02c" stroke="#2ca02c"/>
<rect x="684.75" y="144.75" width="5.90" height="5.90" fill="#2ca02c" stroke="#2ca02c"/>
<rect x="689.05" y="150.75" width="5.90" height="5.90" fill="#2ca02c" stroke="#2ca02c"/>
<rect x="665.65" y="149.35" width="5.90" height="5.90" fill="#2ca02c" stroke="#2ca02c"/>
<rect x="650.85" y="154.65" width="5.90" height="5.90" fill="#2ca02c" stroke="#2ca02c"/>
<rect x="628.25" y="160.95" width="5.90" height="5.90" fill="#2ca02c" stroke="#2ca02c"/>
<rect x="642.75" y="160.65" width="5.90" height="5.90" fill="#2ca02c" stroke="#2ca02c"/>
<rect x="647.05" y="166.95" width="5.90" height="5.90" fill="#2ca02c" stroke="#2ca02c"/>
<rect x="662.15" y="172.55" width="5.90" height="5.90" fill="#2ca02c" stroke="#2ca02c"/>
<rect x="657.95" y="179.05" width="5.90" height="5.90" fill="#2ca02c" stroke="#2ca02c"/>
<rect x="638.85" y="173.95" width="5.90" height="5.90" fill="#2ca02c" stroke="#2ca02c"/>
<rect x="678.75" y="189.75" width="5.90" height="5.90" fill="#2ca02c" stroke="#2ca02c"/>
<rect x="674.15" y="152.45" width="5.90" height="5.90" fill="#2ca02c" stroke="#2ca02c"/>
<rect x="680.95" y="165.75" width="5.90" height="5.90" fill="#2ca02c" stroke="#2ca02c"/>
<rect x="692.95" y="169.95" width="5.90" height="5.90" fill="#2ca02c" stroke="#2ca02c"/>
<rect x="701.25" y="260.95" width="5.90" height="5.90" fill="#2ca02c" stroke="#2ca02c"/>
<rect x="134.15" y="142.85" width="5.90" height="5.90" fill="#2ca02c" stroke="#2ca02c"/>
<rect x="137.95" y="107.95" width="5.90" height="5.90" fill="#2ca02c" stroke="#2ca02c"/>
<rect x="141.75" y="159.65" width="5.90" height="5.90" fill="#2ca02c" stroke="#2ca02c"/>
<rect x="145.55" y="165.85" width="5.90" height="5.90" fill="#2ca02c" stroke="#2ca02c"/>
<rect x="149.35" y="172.05" width="5.90" height="5.90" fill="#2ca02c" stroke="#2ca02c"/>
<rect x="153.15" y="164.95" width="5.90" height="5.90" fill="#2ca02c" stroke="#2ca02c"/>
<rect x="156.95" y="160.25" width="5.90" height="5.90" fill="#2ca02c" stroke="#2ca02c"/>
<rect x="160.75" y="158.75" width="5.90" height="5.90" fill="#2ca02c" stroke="#2ca02c"/>
<rect x="164.55" y="171.55" width="5.90" height="5.90" fill="#2ca02c" stroke="#2ca02c"/>
<rect x="168.35" y="154.75" width="5.90" height="5.90" fill="#2ca02c" stroke="#2ca02c"/>
<rect x="172.15" y="109.95" width="5.90" height="5.90" fill="#2ca02c" stroke="#2ca02c"/>
<rect x="175.95" y="162.85" width="5.90" height="5.90" fill="#2ca02c" stroke="#2ca02c"/>
<rect x="179.75" y="187.95" width="5.90" height="5.90" fill="#2ca02c" stroke="#2ca02c"/>
<rect x="183.55" y="165.85" width="5.90" height="5.90" fill="#2ca02c" stroke="#2ca02c"/>
<rect x="187.35" y="160.55" width="5.90" height="5.90" fill="#2ca02c" stroke="#2ca02c"/>
<rect x="191.15" y="151.75" width="5.90" height="5.90" fill="#2ca02c" stroke="#2ca02c"/>
<rect x="194.95" y="140.75" width="5.90" height="5.90" fill="#2ca02c" stroke="#2ca02c"/>
<rect x="198.75" y="125.75" width="5.90" height="5.90" fill="#2ca02c" stroke="#2ca02c"/>
<rect x="202.55" y="127.05" width="5.90" height="5.90" fill="#2ca02c" stroke="#2ca02c"/>
<rect x="206.35" y="143.75" width="5.90" height="5.90" fill="#2ca02c" stroke="#2ca02c"/>
<rect x="210.15" y="146.05" width="5.90" height="5.90" fill="#2ca02c" stroke="#2ca02c"/>
<rect x="213.95" y="134.55" width="5.90" height="5.90" fill="#2ca02c" stroke="#2ca02c"/>
<rect x="217.75" y="137.95" width="5.90" height="5.90" fill="#2ca02c" stroke="#2ca02c"/>
<rect x="244.95" y="107.55" width="5.90" height="5.90" fill="#d62728" stroke="#d62728"/>
<rect x="297.95" y="116.95" width="5.90" height="5.90" fill="#d62728" stroke="#d62728"/>
<rect x="263.95" y="130.75" width="5.90" height="5.90" fill="#d62728" stroke="#d62728"/>
<rect x="236.95" y="138.95" width="5.90" height="5.90" fill="#d62728" stroke="#d62728"/>
<rect x="301.55" y="136.55" width="5.90" height="5.90" fill="#d62728" stroke="#d62728"/>
<rect x="309.75" y="137.45" width="5.90" height="5.90" fill="#d62728" stroke="#d62728"/>
<rect x="313.85" y="138.95" width="5.90" height="5.90" fill="#d62728" stroke="#d62728"/>
<rect x="320.95" y="140.75" width="5.90" height="5.90" fill="#d62728" stroke="#d62728"/>
<rect x="255.65" y="142.95" width="5.90" height="5.90" fill="#d62728" stroke="#d62728"/>
<rect x="232.95" y="149.85" width="5.90" height="5.90" fill="#d62728" stroke="#d62728"/>
<rect x="228.55" y="157.85" width="5.90" height="5.90" fill="#d62728" stroke="#d62728"/>
<rect x="240.95" y="157.85" width="5.90" height="5.90" fill="#d62728" stroke="#d62728"/>
<rect x="251.65" y="159.85" width="5.90" height="5.90" fill="#d62728" stroke="#d62728"/>
<rect x="259.75" y="155.65" width="5.90" height="5.90" fill="#d62728" stroke="#d62728"/>
<rect x="279.25" y="153.85" width="5.90" height="5.90" fill="#d62728" stroke="#d62728"/>
<rect x="305.75" y="156.55" width="5.90" height="5.90" fill="#d62728" stroke="#d62728"/>
<rect x="290.65" y="159.25" width="5.90" height="5.90" fill="#d62728" stroke="#d62728"/>
<rect x="294.25" y="157.45" width="5.90" height="5.90" fill="#d62728" stroke="#d62728"/>
<rect x="316.95" y="161.95" width="5.90" height="5.90" fill="#d62728" stroke="#d62728"/>
<rect x="267.05" y="162.55" width="5.90" height="5.90" fill="#d62728" stroke="#d62728"/>
<rect x="270.65" y="165.65" width="5.90" height="5.90" fill="#d62728" stroke="#d62728"/>
<rect x="274.65" y="172.05" width="5.90" height="5.90" fill="#d62728" stroke="#d62728"/>
<rect x="283.05" y="172.05" width="5.90" height="5.90" fill="#d62728" stroke="#d62728"/>
<rect x="286.65" y="166.25" width="5.90" height="5.90" fill="#d62728" stroke="#d62728"/>
<rect x="249.25" y="172.05" width="5.90" height="5.90" fill="#d62728" stroke="#d62728"/>
<rect x="226.25" y="168.05" width="5.90" height="5.90" fill="#d62728" stroke="#d62728"/>
<rect x="408.85" y="115.65" width="5.90" height="5.90" fill="#d62728" stroke="#d62728"/>
<rect x="339.85" y="118.75" width="5.90" height="5.90" fill="#d62728" stroke="#d62728"/>
<rect x="336.75" y="122.55" width="5.90" height="5.90" fill="#d62728" stroke="#d62728"/>
<rect x="355.85" y="125.65" width="5.90" height="5.90" fill="#d62728" stroke="#d62728"/>
<rect x="420.65" y="137.45" width="5.90" height="5.90" fill="#d62728" stroke="#d62728"/>
<rect x="348.05" y="146.55" width="5.90" height="5.90" fill="#d62728" stroke="#d62728"/>
<rect x="370.65" y="145.65" width="5.90" height="5.90" fill="#d62728" stroke="#d62728"/>
<rect x="374.85" y="147.45" width="5.90" height="5.90" fill="#d62728" stroke="#d62728"/>
<rect x="382.45" y="147.45" width="5.90" height="5.90" fill="#d62728" stroke="#d62728"/>
<rect x="389.75" y="148.35" width="5.90" height="5.90" fill="#d62728" stroke="#d62728"/>
<rect x="394.25" y="151.65" width="5.90" height="5.90" fill="#d62728" stroke="#d62728"/>
<rect x="359.45" y="149.85" width="5.90" height="5.90" fill="#d62728" stroke="#d62728"/>
<rect x="363.05" y="150.75" width="5.90" height="5.90" fill="#d62728" stroke="#d62728"/>
<rect x="366.65" y="156.85" width="5.90" height="5.90" fill="#d62728" stroke="#d62728"/>
<rect x="324.75" y="155.65" width="5.90" height="5.90" fill="#d62728" stroke="#d62728"/>
<rect x="328.95" y="157.45" width="5.90" height="5.90" fill="#d62728" stroke="#d62728"/>
<rect x="332.95" y="160.75" width="5.90" height="5.90" fill="#d62728" stroke="#d62728"/>
<rect x="351.65" y="158.75" width="5.90" height="5.90" fill="#d62728" stroke="#d62728"/>
<rect x="378.85" y="157.45" width="5.90" height="5.90" fill="#d62728" stroke="#d62728"/>
<rect x="385.75" y="158.75" width="5.90" height="5.90" fill="#d62728" stroke="#d62728"/>
<rect x="344.05" y="170.75" width="5.90" height="5.90" fill="#d62728" stroke="#d62728"/>
<rect x="397.55" y="169.85" width="5.90" height="5.90" fill="#d62728" stroke="#d62728"/>
<rect x="401.55" y="168.95" width="5.90" height="5.90" fill="#d62728" stroke="#d62728"/>
<rect x="406.95" y="168.95" width="5.90" height="5.90" fill="#d62728" stroke="#d62728"/>
<rect x="412.45" y="169.35" width="5.90" height="5.90" fill="#d62728" stroke="#d62728"/>
<rect x="416.95" y="170.75" width="5.90" height="5.90" fill="#d62728" stroke="#d62728"/>
<rect x="500.65" y="120.75" width="5.90" height="5.90" fill="#d62728" stroke="#d62728"/>
<rect x="439.45" y="138.95" width="5.90" height="5.90" fill="#d62728" stroke="#d62728"/>
<rect x="444.05" y="139.85" width="5.90" height="5.90" fill="#d62728" stroke="#d62728"/>
<rect x="451.65" y="150.75" width="5.90" height="5.90" fill="#d62728" stroke="#d62728"/>
<rect x="435.85" y="151.95" width="5.90" height="5.90" fill="#d62728" stroke="#d62728"/>
<rect x="428.95" y="156.85" width="5.90" height="5.90" fill="#d62728" stroke="#d62728"/>
<rect x="448.05" y="161.55" width="5.90" height="5.90" fill="#d62728" stroke="#d62728"/>
<rect x="458.85" y="161.65" width="5.90" height="5.90" fill="#d62728" stroke="#d62728"/>
<rect x="470.65" y="157.45" width="5.90" height="5.90" fill="#d62728" stroke="#d62728"/>
<rect x="474.55" y="158.25" width="5.90" height="5.90" fill="#d62728" stroke="#d62728"/>
<rect x="477.95" y="153.85" width="5.90" height="5.90" fill="#d62728" stroke="#d62728"/>
<rect x="482.45" y="153.85" width="5.90" height="5.90" fill="#d62728" stroke="#d62728"/>
<rect x="486.15" y="157.95" width="5.90" height="5.90" fill="#d62728" stroke="#d62728"/>
<rect x="493.95" y="154.55" width="5.90" height="5.90" fill="#d62728" stroke="#d62728"/>
<rect x="504.85" y="156.05" width="5.90" height="5.90" fill="#d62728" stroke="#d62728"/>
<rect x="424.95" y="164.95" width="5.90" height="5.90" fill="#d62728" stroke="#d62728"/>
<rect x="454.85" y="168.95" width="5.90" height="5.90" fill="#d62728" stroke="#d62728"/>
<rect x="462.85" y="174.35" width="5.90" height="5.90" fill="#d62728" stroke="#d62728"/>
<rect x="467.05" y="184.95" width="5.90" height="5.90" fill="#d62728" stroke="#d62728"/>
<rect x="432.05" y="184.05" width="5.90" height="5.90" fill="#d62728" stroke="#d62728"/>
<rect x="489.75" y="168.05" width="5.90" height="5.90" fill="#d62728" stroke="#d62728"/>
<rect x="497.95" y="171.15" width="5.90" height="5.90" fill="#d62728" stroke="#d62728"/>
<rect x="508.85" y="164.95" width="5.90" height="5.90" fill="#d62728" stroke="#d62728"/>
<rect x="513.35" y="166.75" width="5.90" height="5.90" fill="#d62728" stroke="#d62728"/>
<rect x="517.35" y="168.05" width="5.90" height="5.90" fill="#d62728" stroke="#d62728"/>
<rect x="520.95" y="172.25" width="5.90" height="5.90" fill="#d62728" stroke="#d62728"/>
<rect x="574.35" y="138.75" width="5.90" height="5.90" fill="#d62728" stroke="#d62728"/>
<rect x="532.05" y="140.75" width="5.90" height="5.90" fill="#d62728" stroke="#d62728"/>
<rect x="536.25" y="143.85" width="5.90" height="5.90" fill="#d62728" stroke="#d62728"/>
<rect x="547.05" y="148.75" width="5.90" height="5.90" fill="#d62728" stroke="#d62728"/>
<rect x="558.85" y="148.75" width="5.90" height="5.90" fill="#d62728" stroke="#d62728"/>
<rect x="581.95" y="147.85" width="5.90" height="5.90" fill="#d62728" stroke="#d62728"/>
<rect x="585.75" y="154.75" width="5.90" height="5.90" fill="#d62728" stroke="#d62728"/>
<rect x="608.85" y="143.85" width="5.90" height="5.90" fill="#d62728" stroke="#d62728"/>
<rect x="615.75" y="142.95" width="5.90" height="5.90" fill="#d62728" stroke="#d62728"/>
<rect x="605.15" y="151.65" width="5.90" height="5.90" fill="#d62728" stroke="#d62728"/>
<rect x="523.85" y="154.75" width="5.90" height="5.90" fill="#d62728" stroke="#d62728"/>
<rect x="539.85" y="161.05" width="5.90" height="5.90" fill="#d62728" stroke="#d62728"/>
<rect x="554.85" y="158.35" width="5.90" height="5.90" fill="#d62728" stroke="#d62728"/>
<rect x="577.55" y="161.05" width="5.90" height="5.90" fill="#d62728" stroke="#d62728"/>
<rect x="597.05" y="157.45" width="5.90" height="5.90" fill="#d62728" stroke="#d62728"/>
<rect x="527.85" y="162.45" width="5.90" height="5.90" fill="#d62728" stroke="#d62728"/>
<rect x="544.45" y="162.95" width="5.90" height="5.90" fill="#d62728" stroke="#d62728"/>
<rect x="550.85" y="162.95" width="5.90" height="5.90" fill="#d62728" stroke="#d62728"/>
<rect x="562.85" y="167.15" width="5.90" height="5.90" fill="#d62728" stroke="#d62728"/>
<rect x="567.05" y="163.15" width="5.90" height="5.90" fill="#d62728" stroke="#d62728"/>
<rect x="569.95" y="169.85" width="5.90" height="5.90" fill="#d62728" stroke="#d62728"/>
<rect x="589.75" y="167.85" width="5.90" height="5.90" fill="#d62728" stroke="#d62728"/>
<rect x="592.55" y="162.25" width="5.90" height="5.90" fill="#d62728" stroke="#d62728"/>
<rect x="601.05" y="165.05" width="5.90" height="5.90" fill="#d62728" stroke="#d62728"/>
<rect x="613.05" y="165.05" width="5.90" height="5.90" fill="#d62728" stroke="#d62728"/>
<rect x="620.05" y="162.75" width="5.90" height="5.90" fill="#d62728" stroke="#d62728"/>
<rect x="669.95" y="129.85" width="5.90" height="5.90" fill="#d62728" stroke="#d62728"/>
<rect x="647.05" y="135.85" width="5.90" height="5.90" fill="#d62728" stroke="#d62728"/>
<rect x="651.25" y="140.85" width="5.90" height="5.90" fill="#d62728" stroke="#d62728"/>
<rect x="631.75" y="143.75" width="5.90" height="5.90" fill="#d62728" stroke="#d62728"/>
<rect x="638.85" y="149.65" width="5.90" height="5.90" fill="#d62728" stroke="#d62728"/>
<rect x="636.05" y="153.95" width="5.90" height="5.90" fill="#d62728" stroke="#d62728"/>
<rect x="643.35" y="151.75" width="5.90" height="5.90" fill="#d62728" stroke="#d62728"/>
<rect x="661.45" y="152.75" width="5.90" height="5.90" fill="#d62728" stroke="#d62728"/>
<rect x="665.65" y="153.95" width="5.90" height="5.90" fill="#d62728" stroke="#d62728"/>
<rect x="674.15" y="152.45" width="5.90" height="5.90" fill="#d62728" stroke="#d62728"/>
<rect x="685.05" y="157.65" width="5.90" height="5.90" fill="#d62728" stroke="#d62728"/>
<rect x="624.05" y="156.75" width="5.90" height="5.90" fill="#d62728" stroke="#d62728"/>
<rect x="655.05" y="162.35" width="5.90" height="5.90" fill="#d62728" stroke="#d62728"/>
<rect x="657.95" y="170.85" width="5.90" height="5.90" fill="#d62728" stroke="#d62728"/>
<rect x="627.85" y="171.95" width="5.90" height="5.90" fill="#d62728" stroke="#d62728"/>
<rect x="678.75" y="174.85" width="5.90" height="5.90" fill="#d62728" stroke="#d62728"/>
<rect x="680.95" y="165.75" width="5.90" height="5.90" fill="#d62728" stroke="#d62728"/>
<rect x="692.95" y="169.95" width="5.90" height="5.90" fill="#d62728" stroke="#d62728"/>
<rect x="697.05" y="162.45" width="5.90" height="5.90" fill="#d62728" stroke="#d62728"/>
<rect x="701.05" y="176.05" width="5.90" height="5.90" fill="#d62728" stroke="#d62728"/>
<rect x="689.05" y="181.25" width="5.90" height="5.90" fill="#d62728" stroke="#d62728"/>
<rect x="701.25" y="260.95" width="5.90" height="5.90" fill="#d62728" stroke="#d62728"/>
<rect x="134.15" y="172.05" width="5.90" height="5.90" fill="#d62728" stroke="#d62728"/>
<rect x="137.95" y="146.75" width="5.90" height="5.90" fill="#d62728" stroke="#d62728"/>
<rect x="141.75" y="124.85" width="5.90" height="5.90" fill="#d62728" stroke="#d62728"/>
<rect x="145.55" y="165.85" width="5.90" height="5.90" fill="#d62728" stroke="#d62728"/>
<rect x="149.35" y="135.85" width="5.90" height="5.90" fill="#d62728" stroke="#d62728"/>
<rect x="153.15" y="155.75" width="5.90" height="5.90" fill="#d62728" stroke="#d62728"/>
<rect x="156.95" y="170.85" width="5.90" height="5.90" fill="#d62728" stroke="#d62728"/>
<rect x="160.75" y="151.75" width="5.90" height="5.90" fill="#d62728" stroke="#d62728"/>
<rect x="164.55" y="174.35" width="5.90" height="5.90" fill="#d62728" stroke="#d62728"/>
<rect x="168.35" y="155.25" width="5.90" height="5.90" fill="#d62728" stroke="#d62728"/>
<rect x="172.15" y="155.75" width="5.90" height="5.90" fill="#d62728" stroke="#d62728"/>
<rect x="175.95" y="162.85" width="5.90" height="5.90" fill="#d62728" stroke="#d62728"/>
<rect x="179.75" y="150.85" width="5.90" height="5.90" fill="#d62728" stroke="#d62728"/>
<rect x="183.55" y="137.55" width="5.90" height="5.90" fill="#d62728" stroke="#d62728"/>
<rect x="187.35" y="140.75" width="5.90" height="5.90" fill="#d62728" stroke="#d62728"/>
<rect x="191.15" y="132.65" width="5.90" height="5.90" fill="#d62728" stroke="#d62728"/>
<rect x="194.95" y="159.65" width="5.90" height="5.90" fill="#d62728" stroke="#d62728"/>
<rect x="198.75" y="138.85" width="5.90" height="5.90" fill="#d62728" stroke="#d62728"/>
<rect x="202.55" y="127.05" width="5.90" height="5.90" fill="#d62728" stroke="#d62728"/>
<rect x="206.35" y="164.55" width="5.90" height="5.90" fill="#d62728" stroke="#d62728"/>
<rect x="210.15" y="146.05" width="5.90" height="5.90" fill="#d62728" stroke="#d62728"/>
<rect x="213.95" y="180.05" width="5.90" height="5.90" fill="#d62728" stroke="#d62728"/>
<rect x="217.75" y="163.75" width="5.90" height="5.90" fill="#d62728" stroke="#d62728"/>
<rect x="221.55" y="169.05" width="5.90" height="5.90" fill="#d62728" stroke="#d62728"/>
</g>
<g stroke="#b0b0b0" stroke-opacity="0.55" stroke-width="1.15">
<line x1="133.5" y1="60.5" x2="133.5" y2="503.5"/>
<line x1="261.5" y1="60.5" x2="261.5" y2="503.5"/>
<line x1="388.5" y1="60.5" x2="388.5" y2="503.5"/>
<line x1="516.5" y1="60.5" x2="516.5" y2="503.5"/>
<line x1="644.5" y1="60.5" x2="644.5" y2="503.5"/>
<line x1="108.5" y1="88.5" x2="732.5" y2="88.5"/>
<line x1="108.5" y1="147.5" x2="732.5" y2="147.5"/>
<line x1="108.5" y1="205.5" x2="732.5" y2="205.5"/>
<line x1="108.5" y1="264.5" x2="732.5" y2="264.5"/>
<line x1="108.5" y1="322.5" x2="732.5" y2="322.5"/>
<line x1="108.5" y1="380.5" x2="732.5" y2="380.5"/>
<line x1="108.5" y1="439.5" x2="732.5" y2="439.5"/>
<line x1="108.5" y1="497.5" x2="732.5" y2="497.5"/>
</g>
<g stroke="#000" stroke-width="1.2">
<line x1="133.5" y1="503.5" x2="133.5" y2="509.3"/>
<line x1="261.5" y1="503.5" x2="261.5" y2="509.3"/>
<line x1="388.5" y1="503.5" x2="388.5" y2="509.3"/>
<line x1="516.5" y1="503.5" x2="516.5" y2="509.3"/>
<line x1="644.5" y1="503.5" x2="644.5" y2="509.3"/>
<line x1="158.5" y1="503.5" x2="158.5" y2="506.9"/>
<line x1="184.5" y1="503.5" x2="184.5" y2="506.9"/>
<line x1="209.5" y1="503.5" x2="209.5" y2="506.9"/>
<line x1="235.5" y1="503.5" x2="235.5" y2="506.9"/>
<line x1="286.5" y1="503.5" x2="286.5" y2="506.9"/>
<line x1="312.5" y1="503.5" x2="312.5" y2="506.9"/>
<line x1="337.5" y1="503.5" x2="337.5" y2="506.9"/>
<line x1="363.5" y1="503.5" x2="363.5" y2="506.9"/>
<line x1="414.5" y1="503.5" x2="414.5" y2="506.9"/>
<line x1="439.5" y1="503.5" x2="439.5" y2="506.9"/>
<line x1="465.5" y1="503.5" x2="465.5" y2="506.9"/>
<line x1="490.5" y1="503.5" x2="490.5" y2="506.9"/>
<line x1="542.5" y1="503.5" x2="542.5" y2="506.9"/>
<line x1="567.5" y1="503.5" x2="567.5" y2="506.9"/>
<line x1="593.5" y1="503.5" x2="593.5" y2="506.9"/>
<line x1="618.5" y1="503.5" x2="618.5" y2="506.9"/>
<line x1="669.5" y1="503.5" x2="669.5" y2="506.9"/>
<line x1="695.5" y1="503.5" x2="695.5" y2="506.9"/>
<line x1="720.5" y1="503.5" x2="720.5" y2="506.9"/>
<line x1="108.5" y1="88.5" x2="102.7" y2="88.5"/>
<line x1="108.5" y1="147.5" x2="102.7" y2="147.5"/>
<line x1="108.5" y1="205.5" x2="102.7" y2="205.5"/>
<line x1="108.5" y1="264.5" x2="102.7" y2="264.5"/>
<line x1="108.5" y1="322.5" x2="102.7" y2="322.5"/>
<line x1="108.5" y1="380.5" x2="102.7" y2="380.5"/>
<line x1="108.5" y1="439.5" x2="102.7" y2="439.5"/>
<line x1="108.5" y1="497.5" x2="102.7" y2="497.5"/>
<line x1="108.5" y1="486.5" x2="105.2" y2="486.5"/>
<line x1="108.5" y1="474.5" x2="105.2" y2="474.5"/>
<line x1="108.5" y1="462.5" x2="105.2" y2="462.5"/>
<line x1="108.5" y1="451.5" x2="105.2" y2="451.5"/>
<line x1="108.5" y1="427.5" x2="105.2" y2="427.5"/>
<line x1="108.5" y1="415.5" x2="105.2" y2="415.5"/>
<line x1="108.5" y1="404.5" x2="105.2" y2="404.5"/>
<line x1="108.5" y1="392.5" x2="105.2" y2="392.5"/>
<line x1="108.5" y1="369.5" x2="105.2" y2="369.5"/>
<line x1="108.5" y1="357.5" x2="105.2" y2="357.5"/>
<line x1="108.5" y1="345.5" x2="105.2" y2="345.5"/>
<line x1="108.5" y1="334.5" x2="105.2" y2="334.5"/>
<line x1="108.5" y1="310.5" x2="105.2" y2="310.5"/>
<line x1="108.5" y1="299.5" x2="105.2" y2="299.5"/>
<line x1="108.5" y1="287.5" x2="105.2" y2="287.5"/>
<line x1="108.5" y1="275.5" x2="105.2" y2="275.5"/>
<line x1="108.5" y1="252.5" x2="105.2" y2="252.5"/>
<line x1="108.5" y1="240.5" x2="105.2" y2="240.5"/>
<line x1="108.5" y1="229.5" x2="105.2" y2="229.5"/>
<line x1="108.5" y1="217.5" x2="105.2" y2="217.5"/>
<line x1="108.5" y1="193.5" x2="105.2" y2="193.5"/>
<line x1="108.5" y1="182.5" x2="105.2" y2="182.5"/>
<line x1="108.5" y1="170.5" x2="105.2" y2="170.5"/>
<line x1="108.5" y1="158.5" x2="105.2" y2="158.5"/>
<line x1="108.5" y1="135.5" x2="105.2" y2="135.5"/>
<line x1="108.5" y1="123.5" x2="105.2" y2="123.5"/>
<line x1="108.5" y1="112.5" x2="105.2" y2="112.5"/>
<line x1="108.5" y1="100.5" x2="105.2" y2="100.5"/>
<line x1="108.5" y1="77.5" x2="105.2" y2="77.5"/>
<line x1="108.5" y1="65.5" x2="105.2" y2="65.5"/>
</g>
<rect x="108.5" y="60.5" width="624.0" height="443.0" fill="none" stroke="#000" stroke-width="1.25"/>
<text x="48.48 57.66 62.16 71.28 80.43" y="93.7" font-size="16.80" transform="scale(1.0827 1)">0.003</text>
<text x="48.78 57.96 62.47 71.60 80.54" y="152.7" font-size="16.80" transform="scale(1.0827 1)">0.002</text>
<text x="48.66 57.84 62.35 71.48 80.51" y="210.7" font-size="16.80" transform="scale(1.0827 1)">0.001</text>
<text x="48.28 57.49 62.02 71.19 80.35" y="269.7" font-size="16.80" transform="scale(1.0827 1)">0.000</text>
<text x="35.05 45.54 54.51 58.82 67.68 76.43" y="327.7" font-size="16.80" transform="scale(1.1348 1)">−0.001</text>
<text x="35.16 45.65 54.62 58.93 67.78 76.45" y="385.7" font-size="16.80" transform="scale(1.1348 1)">−0.002</text>
<text x="34.88 45.36 54.33 58.63 67.47 76.34" y="444.7" font-size="16.80" transform="scale(1.1348 1)">−0.003</text>
<text x="34.54 45.05 54.04 58.35 67.22 76.10" y="502.7" font-size="16.80" transform="scale(1.1348 1)">−0.004</text>
<text x="120.93" y="525.7" font-size="16.80" transform="scale(1.0589 1)">0</text>
<text x="232.49 241.56 250.52" y="525.7" font-size="16.80" transform="scale(1.0589 1)">100</text>
<text x="352.59 361.76 370.73" y="525.7" font-size="16.80" transform="scale(1.0589 1)">200</text>
<text x="473.70 482.64 491.59" y="525.7" font-size="16.80" transform="scale(1.0589 1)">300</text>
<text x="594.64 603.66 612.68" y="525.7" font-size="16.80" transform="scale(1.0589 1)">400</text>
<text x="266.44 276.40 282.54 290.58 297.77 311.19 318.95 324.16 336.01 341.69 347.01 359.75 364.87 379.40 392.04 399.37 405.14 421.18 434.54 454.29 467.03 480.45 488.05 494.75 501.02" y="26.9" font-size="23.20" transform="scale(1.0761 1)">Jitter File Ext Number: 2</text>
<text x="203.41 218.89 232.31 240.37 247.53 259.93 271.08 283.74 296.54 309.39 322.73 328.23 341.08 354.17 359.38 372.08 380.21 391.53 398.24 405.00 410.30 423.18 436.18 449.09 462.00 475.10 488.82 496.07 507.85 520.01 526.86 533.02 540.34 547.46 554.32 560.47 567.46" y="50.75" font-size="23.20" transform="scale(1.0822 1)">Corresponding FLT: iepp01utq_flt.fits</text>
<text x="289.97 304.63 316.85 329.65 342.18 353.29 367.11 374.36 387.21 392.97 406.04 411.97 431.63 444.47 450.95 458.02 472.18 484.60 496.24 509.18 522.16 535.05 547.76" y="551.95" font-size="23.20" transform="scale(0.9967 1)">Exposure Time [Seconds]</text>
<text x="-1.18 14.30 26.84 40.26 47.57 60.91 66.41 78.33 92.60 99.79 112.54 118.29 133.26 145.44 150.55 161.57 167.97 175.31 190.76 197.60 208.98 219.86 232.15 245.46" y="0" font-size="23.20" transform="translate(26.8 408.6) rotate(-90) scale(1.0075 1)">Coordinate Axis [Arcsec]</text>
<rect x="118.2" y="428.0" width="312.8" height="64.8" rx="3.4" ry="3.4" fill="#fff" fill-opacity="0.8" stroke="#cccccc" stroke-opacity="0.8" stroke-width="1.3"/>
<g fill-opacity="0.5" stroke-opacity="0.5" stroke-width="1.5">
<circle cx="145.3" cy="446.4" r="3.15" fill="#1f77b4" stroke="#1f77b4"/>
<circle cx="145.3" cy="476.4" r="3.15" fill="#ff7f0e" stroke="#ff7f0e"/>
<rect x="308.95" y="443.05" width="5.90" height="5.90" fill="#2ca02c" stroke="#2ca02c"/>
<rect x="308.95" y="473.05" width="5.90" height="5.90" fill="#d62728" stroke="#d62728"/>
</g>
<text x="188.88 202.83 214.41 224.98 237.28 250.62" y="450.9" font-size="20.30" transform="scale(0.9483 1)">V2_AVG</text>
<text x="188.88 203.12 214.41 224.98 237.28 250.62" y="480.9" font-size="20.30" transform="scale(0.9483 1)">V3_AVG</text>
<text x="371.04 385.15 396.86 407.46 421.64 438.46" y="450.9" font-size="20.30" transform="scale(0.9336 1)">V2_RMS</text>
<text x="371.04 385.44 396.86 407.46 421.64 438.46" y="480.9" font-size="20.30" transform="scale(0.9336 1)">V3_RMS</text>
</svg>
</body></html>
